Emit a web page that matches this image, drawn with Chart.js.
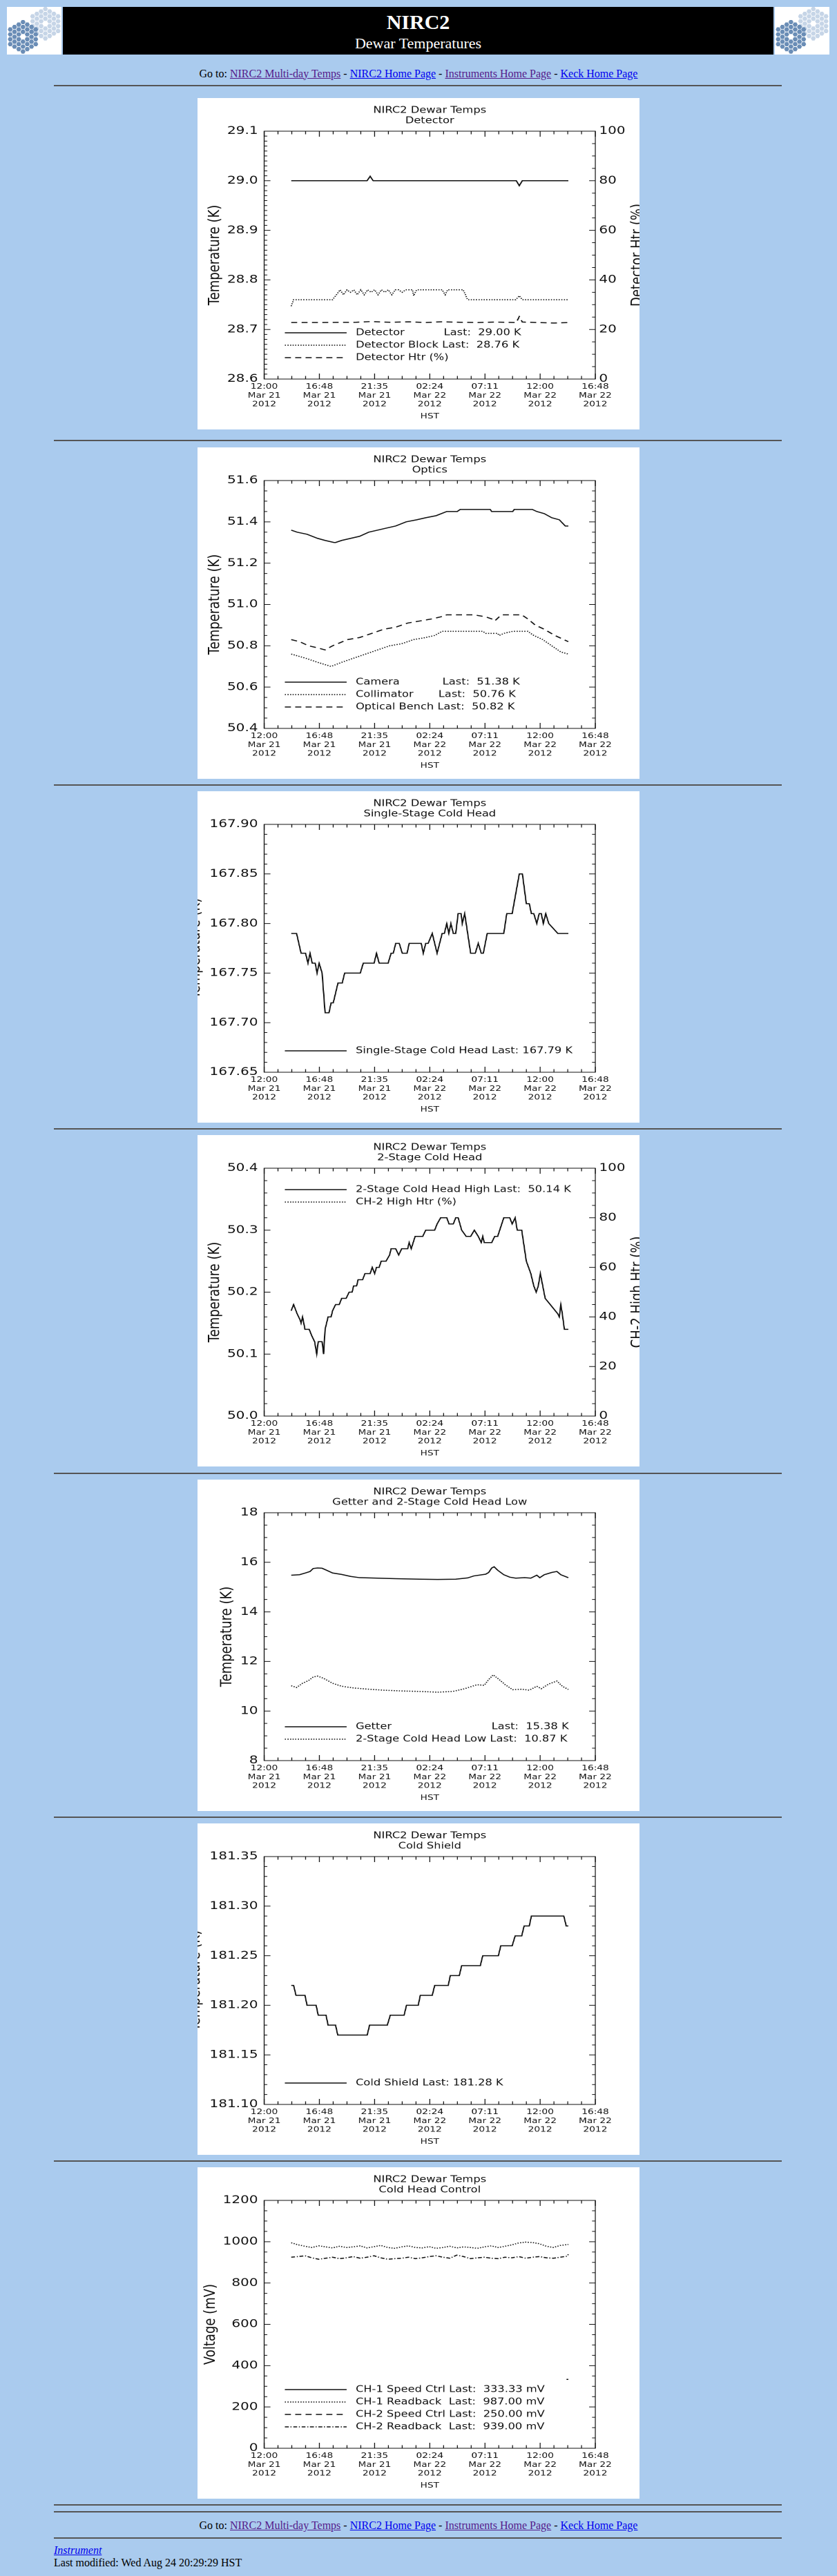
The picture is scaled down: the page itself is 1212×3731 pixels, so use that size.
<!DOCTYPE html>
<html>
<head>
<meta charset="utf-8">
<title>NIRC2 Dewar Temperatures</title>
<script src="https://cdn.jsdelivr.net/npm/chart.js@4.4.1/dist/chart.umd.min.js"></script>
<style>
html,body{margin:0;padding:0;overflow:hidden}
body{width:1212px;height:3731px;position:relative;background:#aacbee;font-family:'Liberation Serif','Times New Roman',serif;font-size:16px;color:#000}
.hr{position:absolute;left:78px;width:1054px;height:2px;background:#555}
.nav{position:absolute;left:0;width:1212px;text-align:center;line-height:16px;white-space:nowrap}
.foot{position:absolute;left:78px;line-height:16px;white-space:nowrap}
a{text-decoration:underline}
a.v{color:#551a8b}
a.n{color:#0000ee}
.logo{position:absolute;top:10px;width:79px;height:69px}
.banner{position:absolute;left:91px;top:10px;width:1029px;height:69px;background:#000;color:#fff;text-align:center}
.t1{position:absolute;left:0;right:0;top:6.5px;font-size:30px;line-height:30px;font-weight:bold}
.t2{position:absolute;left:0;right:0;top:42px;font-size:22px;line-height:22px}
canvas.plot{position:absolute;left:286px}
</style>
</head>
<body>

<canvas class="logo" id="logoL" width="79" height="69" style="left:10px"></canvas>
<div class="banner"><div class="t1">NIRC2</div><div class="t2">Dewar Temperatures</div></div>
<canvas class="logo" id="logoR" width="79" height="69" style="left:1122px"></canvas>

<div class="nav" style="top:98.6px">Go to: <a class="v" href="#">NIRC2 Multi-day Temps</a> - <a class="n" href="#">NIRC2 Home Page</a> - <a class="v" href="#">Instruments Home Page</a> - <a class="n" href="#">Keck Home Page</a></div>
<div class="hr" style="top:123px"></div>

<canvas class="plot" id="cDetector" width="512" height="480" style="top:142px;width:640px;height:480px"></canvas>
<div class="hr" style="top:637px"></div>
<canvas class="plot" id="cOptics" width="512" height="480" style="top:648px;width:640px;height:480px"></canvas>
<div class="hr" style="top:1136px"></div>
<canvas class="plot" id="cSingle" width="512" height="480" style="top:1146px;width:640px;height:480px"></canvas>
<div class="hr" style="top:1634px"></div>
<canvas class="plot" id="cTwoStage" width="512" height="480" style="top:1644px;width:640px;height:480px"></canvas>
<div class="hr" style="top:2133px"></div>
<canvas class="plot" id="cGetter" width="512" height="480" style="top:2143px;width:640px;height:480px"></canvas>
<div class="hr" style="top:2631px"></div>
<canvas class="plot" id="cShield" width="512" height="480" style="top:2641px;width:640px;height:480px"></canvas>
<div class="hr" style="top:3129px"></div>
<canvas class="plot" id="cControl" width="512" height="480" style="top:3139px;width:640px;height:480px"></canvas>
<div class="hr" style="top:3627px"></div>
<div class="hr" style="top:3637px"></div>

<div class="nav" style="top:3650px">Go to: <a class="v" href="#">NIRC2 Multi-day Temps</a> - <a class="n" href="#">NIRC2 Home Page</a> - <a class="v" href="#">Instruments Home Page</a> - <a class="n" href="#">Keck Home Page</a></div>
<div class="hr" style="top:3675px"></div>
<div class="foot" style="top:3685.6px"><a class="n" href="#"><i>Instrument</i></a></div>
<div class="foot" style="top:3703.6px">Last modified: Wed Aug 24 20:29:29 HST</div>

<script>
// hours are counted from 12:00 HST, Mar 21 2012
const xMajorHours = [0, 4.8, 9.6, 14.4, 19.2, 24.0, 28.8];
const xTickLabels = [
  ['12:00', 'Mar 21', '2012'], ['16:48', 'Mar 21', '2012'], ['21:35', 'Mar 21', '2012'],
  ['02:24', 'Mar 22', '2012'], ['07:11', 'Mar 22', '2012'], ['12:00', 'Mar 22', '2012'],
  ['16:48', 'Mar 22', '2012']
];
const heaterLabels = ['0', '20', '40', '60', '80', '100'];

// Detector
const detYLabels = ['28.6', '28.7', '28.8', '28.9', '29.0', '29.1'];
const detectorHrs = [2.35, 8.95, 9.22, 9.48, 21.93, 22.19, 22.45, 26.45];
const detectorK = [29.00, 29.00, 29.009, 29.00, 29.00, 28.99, 29.00, 29.00];
const detBlockHrs = [2.35, 2.56, 5.95, 6.61, 6.9, 7.2, 7.5, 7.8, 8.1, 8.4, 8.7, 9.0, 9.3, 9.6, 9.9, 10.2, 10.5, 10.8,
  11.1, 11.4, 11.7, 12.0, 12.3, 12.6, 12.9, 13.0, 13.26, 15.48, 15.75, 15.95, 17.31, 17.70, 21.88, 22.19, 22.46, 26.45];
const detBlockK = [28.747, 28.76, 28.76, 28.78, 28.77, 28.78, 28.775, 28.78, 28.77, 28.78, 28.77, 28.78, 28.775, 28.78,
  28.77, 28.78, 28.775, 28.78, 28.77, 28.78, 28.78, 28.775, 28.78, 28.78, 28.78, 28.768, 28.78, 28.78, 28.77, 28.78,
  28.78, 28.76, 28.76, 28.768, 28.76, 28.76];
const detHtrHrs = [2.35, 4.0, 4.3, 8.0, 9.3, 11.0, 12.6, 14.0, 15.4, 17.0, 18.6, 20.0, 21.93, 22.19, 22.45, 23.8, 25.2, 26.45];
const detHtrPct = [22.8, 22.8, 22.8, 22.9, 23.2, 22.9, 23.1, 22.8, 23.1, 22.9, 22.8, 23.0, 22.8, 25.2, 23.0, 22.8, 22.6, 22.8];

// Optics
const optYLabels = ['50.4', '50.6', '50.8', '51.0', '51.2', '51.4', '51.6'];
const cameraHrs = [2.35, 2.87, 3.73, 4.65, 5.30, 6.08, 6.21, 6.74, 7.52, 8.30, 9.09, 9.87, 10.65, 11.44, 12.35, 13.26,
  14.05, 14.96, 15.88, 16.79, 17.05, 19.66, 19.79, 21.62, 21.75, 23.32, 23.71, 24.36, 25.01, 25.67, 26.19, 26.45];
const cameraK = [51.36, 51.35, 51.34, 51.32, 51.31, 51.30, 51.30, 51.31, 51.32, 51.33, 51.35, 51.36, 51.37, 51.38,
  51.40, 51.41, 51.42, 51.43, 51.45, 51.45, 51.46, 51.46, 51.45, 51.45, 51.46, 51.46, 51.45, 51.44, 51.42, 51.41,
  51.38, 51.38];
const collimatorHrs = [2.35, 3.60, 4.65, 5.82, 6.74, 7.78, 8.83, 9.87, 10.91, 11.96, 13.00, 14.05, 14.83, 15.48,
  19.01, 19.27, 20.31, 20.44, 20.84, 21.62, 22.93, 23.45, 24.23, 25.01, 25.80, 26.45];
const collimatorK = [50.76, 50.74, 50.72, 50.70, 50.72, 50.74, 50.76, 50.78, 50.80, 50.81, 50.83, 50.84, 50.85,
  50.87, 50.87, 50.86, 50.86, 50.85, 50.86, 50.87, 50.87, 50.85, 50.83, 50.80, 50.77, 50.76];
const benchHrs = [2.35, 3.08, 3.86, 4.65, 5.30, 5.95, 7.26, 8.30, 9.35, 10.39, 11.44, 12.48, 13.53, 14.57, 15.35,
  15.88, 18.23, 19.27, 19.79, 20.05, 20.44, 20.71, 22.40, 22.93, 23.58, 24.36, 25.28, 26.06, 26.45];
const benchK = [50.83, 50.82, 50.80, 50.79, 50.78, 50.80, 50.83, 50.84, 50.86, 50.88, 50.89, 50.91, 50.92, 50.93,
  50.94, 50.95, 50.95, 50.94, 50.93, 50.92, 50.94, 50.95, 50.95, 50.93, 50.90, 50.88, 50.85, 50.83, 50.82];

// Single-stage cold head
const singleYLabels = ['167.65', '167.70', '167.75', '167.80', '167.85', '167.90'];
const singleHrs = [2.35, 2.82, 3.21, 3.60, 3.81, 3.99, 4.18, 4.44, 4.60, 4.78, 5.04, 5.30, 5.64, 5.82, 6.01, 6.42,
  6.79, 7.00, 8.36, 8.62, 9.56, 9.77, 10.00, 10.78, 11.04, 11.23, 11.44, 11.75, 12.01, 12.43, 12.61, 13.66, 13.84,
  14.05, 14.26, 14.62, 15.04, 15.48, 15.67, 15.88, 16.06, 16.24, 16.45, 16.66, 16.87, 17.13, 17.23, 17.44, 17.96,
  18.36, 18.62, 18.88, 19.06, 19.40, 20.84, 21.10, 21.57, 21.88, 22.19, 22.46, 22.80, 23.06, 23.24, 23.45, 23.71,
  23.92, 24.10, 24.28, 24.49, 24.75, 25.54, 26.45];
const singleK = [167.79, 167.79, 167.77, 167.77, 167.76, 167.77, 167.76, 167.76, 167.75, 167.76, 167.75, 167.71,
  167.71, 167.72, 167.72, 167.74, 167.74, 167.75, 167.75, 167.76, 167.76, 167.77, 167.76, 167.76, 167.77, 167.77,
  167.78, 167.78, 167.77, 167.77, 167.78, 167.78, 167.77, 167.78, 167.78, 167.79, 167.77, 167.79, 167.79, 167.80,
  167.79, 167.80, 167.79, 167.79, 167.81, 167.81, 167.80, 167.81, 167.77, 167.77, 167.78, 167.77, 167.77, 167.79,
  167.79, 167.81, 167.81, 167.83, 167.85, 167.85, 167.82, 167.82, 167.81, 167.81, 167.80, 167.81, 167.81, 167.80,
  167.81, 167.80, 167.79, 167.79];

// 2-stage cold head
const twoYLabels = ['50.0', '50.1', '50.2', '50.3', '50.4'];
const twoHighHrs = [2.35, 2.56, 2.87, 3.13, 3.21, 3.34, 3.55, 3.92, 4.13, 4.39, 4.57, 4.70, 5.04, 5.17, 5.30, 5.56,
  5.82, 5.95, 6.21, 6.53, 6.74, 7.13, 7.39, 7.65, 7.78, 8.04, 8.17, 8.56, 8.77, 9.22, 9.40, 9.61, 9.77, 10.00, 10.18,
  10.60, 10.91, 11.04, 11.44, 11.70, 11.96, 12.48, 12.61, 12.79, 13.13, 13.79, 14.05, 14.83, 15.04, 15.35, 15.88,
  16.08, 16.45, 16.66, 16.87, 17.18, 17.57, 17.96, 18.28, 18.62, 18.88, 19.01, 19.14, 19.79, 20.05, 20.31, 20.84,
  21.36, 21.57, 21.83, 22.01, 22.40, 22.80, 23.19, 23.45, 23.66, 23.84, 24.02, 24.23, 24.44, 24.88, 25.54, 25.67,
  25.80, 25.93, 26.11, 26.45];
const twoHighK = [50.17, 50.18, 50.165, 50.155, 50.15, 50.16, 50.14, 50.14, 50.13, 50.12, 50.10, 50.12, 50.12, 50.10,
  50.14, 50.16, 50.16, 50.17, 50.18, 50.18, 50.19, 50.19, 50.20, 50.20, 50.21, 50.21, 50.22, 50.22, 50.23, 50.23,
  50.24, 50.23, 50.24, 50.24, 50.25, 50.25, 50.26, 50.27, 50.27, 50.26, 50.27, 50.27, 50.28, 50.27, 50.29, 50.29,
  50.30, 50.30, 50.31, 50.32, 50.32, 50.31, 50.31, 50.32, 50.32, 50.30, 50.29, 50.29, 50.30, 50.29, 50.28, 50.29,
  50.28, 50.28, 50.29, 50.29, 50.32, 50.32, 50.31, 50.32, 50.30, 50.30, 50.25, 50.23, 50.21, 50.20, 50.21, 50.23,
  50.21, 50.19, 50.18, 50.165, 50.16, 50.18, 50.165, 50.14, 50.14];
const ch2HtrHrs = [];
const ch2HtrPct = [];

// Getter and 2-stage cold head low
const getterYLabels = ['8', '10', '12', '14', '16', '18'];
const getterHrs = [2.35, 3.08, 3.60, 3.99, 4.26, 4.65, 5.04, 5.43, 5.95, 6.74, 7.52, 8.30, 9.87, 11.44, 13.53, 15.09,
  16.66, 17.70, 18.23, 19.27, 19.53, 19.79, 20.00, 20.31, 20.84, 21.36, 21.88, 22.66, 23.19, 23.71, 23.97, 24.36,
  25.01, 25.46, 25.80, 26.45];
const getterK = [15.48, 15.50, 15.57, 15.63, 15.75, 15.77, 15.76, 15.68, 15.57, 15.51, 15.43, 15.38, 15.36, 15.34,
  15.32, 15.31, 15.32, 15.37, 15.45, 15.52, 15.59, 15.77, 15.82, 15.68, 15.50, 15.40, 15.36, 15.38, 15.36, 15.48,
  15.38, 15.50, 15.59, 15.63, 15.50, 15.38];
const twoLowHrs = [2.35, 2.82, 3.34, 3.86, 4.26, 4.65, 5.17, 5.95, 6.74, 7.78, 8.83, 10.39, 11.96, 13.53, 15.09,
  16.40, 17.44, 18.49, 19.14, 19.53, 19.92, 20.44, 20.97, 21.62, 22.40, 23.06, 23.71, 24.10, 24.75, 25.46, 25.93, 26.45];
const twoLowK = [11.02, 10.95, 11.12, 11.23, 11.37, 11.41, 11.32, 11.12, 11.00, 10.93, 10.89, 10.84, 10.81, 10.79,
  10.76, 10.79, 10.90, 11.06, 11.04, 11.27, 11.46, 11.27, 11.06, 10.86, 10.88, 10.84, 11.00, 10.90, 11.09, 11.21,
  11.00, 10.87];

// Cold shield
const shieldYLabels = ['181.10', '181.15', '181.20', '181.25', '181.30', '181.35'];
const shieldHrs = [2.35, 2.56, 2.77, 3.55, 3.73, 4.52, 4.70, 5.38, 5.56, 6.21, 6.40, 8.96, 9.17, 10.71, 10.97, 12.17,
  12.38, 13.40, 13.58, 14.62, 14.83, 16.01, 16.19, 16.97, 17.18, 18.80, 19.01, 20.37, 20.58, 21.57, 21.83, 22.40,
  22.61, 23.06, 23.24, 26.06, 26.27, 26.45];
const shieldK = [181.22, 181.22, 181.21, 181.21, 181.20, 181.20, 181.19, 181.19, 181.18, 181.18, 181.17, 181.17,
  181.18, 181.18, 181.19, 181.19, 181.20, 181.20, 181.21, 181.21, 181.22, 181.22, 181.23, 181.23, 181.24, 181.24,
  181.25, 181.25, 181.26, 181.26, 181.27, 181.27, 181.28, 181.28, 181.29, 181.29, 181.28, 181.28];

// Cold head control
const ctrlYLabels = ['0', '200', '400', '600', '800', '1000', '1200'];
const ctrlHrs = [2.35, 2.95, 3.55, 4.15, 4.75, 5.35, 5.95, 6.55, 7.15, 7.75, 8.35, 8.95, 9.55, 10.15, 10.75, 11.35,
  11.95, 12.55, 13.15, 13.75, 14.35, 14.95, 15.55, 16.15, 16.75, 17.35, 17.95, 18.55, 19.15, 19.75, 20.35, 20.95,
  21.55, 22.15, 22.75, 23.35, 23.95, 24.55, 25.15, 25.75, 26.35, 26.45];
const ch1ReadMv = [995, 985, 978, 972, 980, 975, 970, 978, 972, 975, 980, 970, 976, 982, 972, 968, 975, 980, 972, 970,
  976, 968, 972, 978, 970, 975, 972, 968, 975, 980, 972, 978, 985, 994, 998, 996, 990, 978, 972, 982, 986, 987];
const ch2ReadMv = [925, 928, 932, 922, 915, 920, 925, 918, 922, 928, 920, 925, 932, 922, 915, 918, 920, 925, 918, 922,
  928, 932, 925, 920, 935, 928, 918, 922, 925, 920, 918, 925, 922, 928, 920, 925, 928, 922, 920, 925, 930, 939];
const ch1SpeedHrs = [26.3, 26.45];
const ch1SpeedMv = [333.33, 333.33];
const ch2SpeedHrs = [];
const ch2SpeedMv = [];

const S = 1.25;               // canvas is drawn 512 wide and shown 640 wide
const PLOT_L = 96.5, PLOT_R = 576;   // plot box edges in the shown 640px image
const INK = '#111';
const FONT = 'DejaVu Sans';
const SOLID = [], DOT = [1.3, 1.7], DASH = [7, 5], DASHDOT = [4.5, 2, 1.2, 2];
const pad = n => ' '.repeat(n);

function series(label, hrs, vals, dash, axis) {
  return {
    label, data: hrs.map((h, i) => ({x: h, y: vals[i]})),
    borderColor: INK, borderWidth: 1.5, borderDash: dash,
    pointRadius: 0, fill: false, tension: 0, yAxisID: axis || 'y'
  };
}

function tickList(labels, nMinor) {
  const majors = labels.map(Number);
  const out = [];
  labels.forEach((lab, i) => {
    const v = majors[i];
    out.push({value: v, idlMajor: true, idlLabel: lab});
    if (i < labels.length - 1) {
      const step = (majors[i + 1] - v) / nMinor;
      for (let k = 1; k < nMinor; k++) out.push({value: v + k * step, idlMajor: false, idlLabel: ''});
    }
  });
  return out;
}

function xTicks() {
  const out = [];
  xMajorHours.forEach((h, i) => {
    out.push({value: h, idlMajor: true, idlLabel: xTickLabels[i]});
    if (i < xMajorHours.length - 1) {
      const step = (xMajorHours[i + 1] - h) / 4;
      for (let k = 1; k < 4; k++) out.push({value: h + k * step, idlMajor: false, idlLabel: ''});
    }
  });
  return out;
}

// IDL look: white page, box with inward ticks, line legend, clipped right title
const idlFrame = {
  id: 'idlFrame',
  beforeDraw(chart) {
    const c = chart.ctx;
    c.save();
    c.fillStyle = '#fff';
    c.fillRect(0, 0, chart.width, chart.height);
    c.restore();
  },
  afterDraw(chart, args, opts) {
    const {ctx: c, chartArea: a, scales} = chart;
    c.save();
    c.strokeStyle = INK;
    c.lineWidth = 1;
    c.setLineDash([]);
    c.strokeRect(a.left, a.top, a.right - a.left, a.bottom - a.top);
    c.beginPath();
    scales.x.ticks.forEach(t => {
      const px = scales.x.getPixelForValue(t.value);
      const len = t.idlMajor ? 8 : 4.5;
      c.moveTo(px, a.bottom); c.lineTo(px, a.bottom - len);
      c.moveTo(px, a.top); c.lineTo(px, a.top + len);
    });
    const side = (scale, x, dir) => scale.ticks.forEach(t => {
      const py = scale.getPixelForValue(t.value);
      const len = (t.idlMajor ? 9 : 4.6) / S;
      c.moveTo(x, py); c.lineTo(x + dir * len, py);
    });
    side(scales.y, a.left, 1);
    side(scales.y1 || scales.y, a.right, -1);
    c.stroke();

    const ds = chart.data.datasets;
    c.font = '13px ' + FONT;
    c.fillStyle = INK;
    c.textAlign = 'left';
    c.textBaseline = 'middle';
    ds.forEach((d, i) => {
      const y = opts.legendAt === 'top' ? a.top + 31 + i * 18 : a.bottom - 31 - (ds.length - 1 - i) * 18;
      c.beginPath();
      c.setLineDash(d.borderDash || []);
      c.lineWidth = d.borderWidth;
      c.moveTo(a.left + 24, y);
      c.lineTo(a.left + 95.6, y);
      c.stroke();
      c.fillText(d.label, a.left + 106, y);
    });

    if (opts.rightTitle) {
      c.font = '18px ' + FONT;
      c.textAlign = 'center';
      c.textBaseline = 'alphabetic';
      c.translate(514.7, (a.top + a.bottom) / 2);
      c.rotate(-Math.PI / 2);
      c.fillText(opts.rightTitle, 0, 0);
    }
    c.restore();
  }
};

function dewarChart(id, o) {
  const noGrid = {display: false, drawTicks: false};
  const scales = {
    x: {
      type: 'linear', min: 0, max: 28.8,
      afterBuildTicks: s => { s.ticks = xTicks(); },
      afterFit: s => { s.height = 73; },
      grid: noGrid, border: {display: false},
      ticks: {autoSkip: false, maxRotation: 0, padding: 5, color: INK,
        font: {family: FONT, size: 11, lineHeight: 1.15},
        callback: (v, i, t) => t[i].idlLabel},
      title: {display: true, text: 'HST', color: INK, font: {family: FONT, size: 11},
        padding: {top: 0, bottom: 12.4}}
    },
    y: {
      type: 'linear', position: 'left',
      min: Number(o.yLabels[0]), max: Number(o.yLabels[o.yLabels.length - 1]),
      afterBuildTicks: s => { s.ticks = tickList(o.yLabels, o.yMinor); },
      afterFit: s => { s.width = PLOT_L / S; },
      grid: noGrid, border: {display: false},
      ticks: {autoSkip: false, padding: 9 / S, color: INK, font: {family: FONT, size: 16},
        callback: (v, i, t) => t[i].idlLabel},
      title: {display: true, text: o.yTitle, color: INK, font: {family: FONT, size: 18},
        padding: {top: o.titlePad, bottom: 0}}
    }
  };
  if (o.rightTitle) {
    scales.y1 = {
      type: 'linear', position: 'right', min: 0, max: 100,
      afterBuildTicks: s => { s.ticks = tickList(heaterLabels, 4); },
      afterFit: s => { s.width = 512 - PLOT_R / S; },
      grid: noGrid, border: {display: false},
      ticks: {autoSkip: false, padding: 4.3, color: INK, font: {family: FONT, size: 16},
        callback: (v, i, t) => t[i].idlLabel}
    };
  }
  return new Chart(document.getElementById(id), {
    type: 'line',
    data: {datasets: o.datasets},
    options: {
      responsive: false,
      animation: false,
      devicePixelRatio: 2,
      layout: {padding: {left: 0, top: 0, bottom: 0, right: o.rightTitle ? 0 : 512 - PLOT_R / S}},
      scales,
      plugins: {
        legend: {display: false},
        tooltip: {enabled: false},
        title: {display: true, text: ['NIRC2 Dewar Temps', o.title], color: INK, fullSize: false,
          font: {family: FONT, size: 13, weight: 'normal', lineHeight: '15px'},
          padding: {top: 10.5, bottom: 7.5}},
        idlFrame: {legendAt: o.legendAt || 'bottom', rightTitle: o.rightTitle || ''}
      }
    },
    plugins: [idlFrame]
  });
}

dewarChart('cDetector', {
  title: 'Detector', yTitle: 'Temperature (K)', yLabels: detYLabels, yMinor: 10, titlePad: 9.4,
  rightTitle: 'Detector Htr (%)',
  datasets: [
    series('Detector' + pad(11) + 'Last:  29.00 K', detectorHrs, detectorK, SOLID),
    series('Detector Block Last:  28.76 K', detBlockHrs, detBlockK, DOT),
    series('Detector Htr (%)', detHtrHrs, detHtrPct, DASH, 'y1')
  ]
});

dewarChart('cOptics', {
  title: 'Optics', yTitle: 'Temperature (K)', yLabels: optYLabels, yMinor: 4, titlePad: 9.6,
  datasets: [
    series('Camera' + pad(12) + 'Last:  51.38 K', cameraHrs, cameraK, SOLID),
    series('Collimator' + pad(7) + 'Last:  50.76 K', collimatorHrs, collimatorK, DOT),
    series('Optical Bench Last:  50.82 K', benchHrs, benchK, DASH)
  ]
});

dewarChart('cSingle', {
  title: 'Single-Stage Cold Head', yTitle: 'Temperature (K)', yLabels: singleYLabels, yMinor: 5, titlePad: -13,
  datasets: [
    series('Single-Stage Cold Head Last: 167.79 K', singleHrs, singleK, SOLID)
  ]
});

dewarChart('cTwoStage', {
  title: '2-Stage Cold Head', yTitle: 'Temperature (K)', yLabels: twoYLabels, yMinor: 5, titlePad: 9.6,
  rightTitle: 'CH-2 High Htr (%)', legendAt: 'top',
  datasets: [
    series('2-Stage Cold Head High Last:  50.14 K', twoHighHrs, twoHighK, SOLID),
    series('CH-2 High Htr (%)', ch2HtrHrs, ch2HtrPct, DOT, 'y1')
  ]
});

dewarChart('cGetter', {
  title: 'Getter and 2-Stage Cold Head Low', yTitle: 'Temperature (K)', yLabels: getterYLabels, yMinor: 4,
  titlePad: 23.4,
  datasets: [
    series('Getter' + pad(28) + 'Last:  15.38 K', getterHrs, getterK, SOLID),
    series('2-Stage Cold Head Low Last:  10.87 K', twoLowHrs, twoLowK, DOT)
  ]
});

dewarChart('cShield', {
  title: 'Cold Shield', yTitle: 'Temperature (K)', yLabels: shieldYLabels, yMinor: 5, titlePad: -13,
  datasets: [
    series('Cold Shield Last: 181.28 K', shieldHrs, shieldK, SOLID)
  ]
});

dewarChart('cControl', {
  title: 'Cold Head Control', yTitle: 'Voltage (mV)', yLabels: ctrlYLabels, yMinor: 4, titlePad: 4.4,
  datasets: [
    series('CH-1 Speed Ctrl Last:  333.33 mV', ch1SpeedHrs, ch1SpeedMv, SOLID),
    series('CH-1 Readback  Last:  987.00 mV', ctrlHrs, ch1ReadMv, DOT),
    series('CH-2 Speed Ctrl Last:  250.00 mV', ch2SpeedHrs, ch2SpeedMv, DASH),
    series('CH-2 Readback  Last:  939.00 mV', ctrlHrs, ch2ReadMv, DASHDOT)
  ]
});

// Keck segmented-mirror logo on both sides of the banner
function drawLogo(cv) {
  const c = cv.getContext('2d');
  c.fillStyle = '#fff';
  c.fillRect(0, 0, cv.width, cv.height);
  const R = 4.1;
  [[55.7, 24.3, '#c6d5e7'], [23.3, 43.3, '#6a8db6']].forEach(([cx, cy, col]) => {
    c.fillStyle = col;
    for (let q = -3; q <= 3; q++) {
      for (let r = -3; r <= 3; r++) {
        const s = -q - r;
        if (Math.max(Math.abs(q), Math.abs(r), Math.abs(s)) > 3 || (q === 0 && r === 0)) continue;
        const x = cx + 1.5 * R * q, y = cy + Math.sqrt(3) * R * (r + q / 2);
        c.beginPath();
        for (let k = 0; k < 6; k++) {
          const an = Math.PI / 3 * k;
          c.lineTo(x + (R - 0.5) * Math.cos(an), y + (R - 0.5) * Math.sin(an));
        }
        c.fill();
      }
    }
  });
}
drawLogo(document.getElementById('logoL'));
drawLogo(document.getElementById('logoR'));
</script>
</body>
</html>
